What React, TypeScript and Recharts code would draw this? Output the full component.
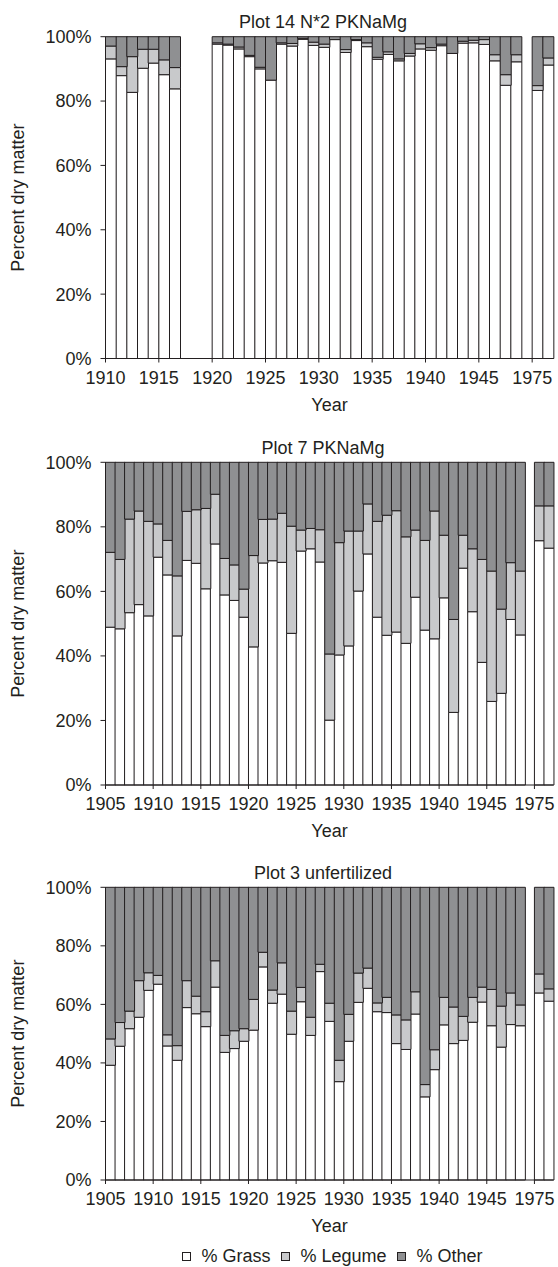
import React from 'react';
import { BarChart, Bar, XAxis, YAxis } from 'recharts';

const FONT = '"Liberation Sans", Arial, Helvetica, sans-serif';
const INK = '#231f20';
const GRASS_FILL = '#ffffff';
const LEGUME_FILL = '#c8c9cb';
const OTHER_FILL = '#8f9092';

// ---------- Plot 14 N*2 PKNaMg ----------
const years14 = [
  '1910', '1911', '1912', '1913', '1914', '1915', '1916', '1917', '1918', '1919',
  '1920', '1921', '1922', '1923', '1924', '1925', '1926', '1927', '1928', '1929',
  '1930', '1931', '1932', '1933', '1934', '1935', '1936', '1937', '1938', '1939',
  '1940', '1941', '1942', '1943', '1944', '1945', '1946', '1947', '1948', '',
  '1975', '1976',
];
const grass14 = [
  93.1, 87.9, 82.7, 90.2, 91.8, 88.2, 83.8, null, null, null,
  97.7, 97.4, 96.2, 93.8, 90.0, 86.5, 97.7, 97.1, 99.2, 97.3,
  96.7, 99.1, 95.1, 98.8, 96.9, 93.0, 94.5, 92.5, 94.0, 96.2,
  95.8, 97.2, 94.8, 98.0, 98.1, 97.6, 92.5, 84.9, 92.2, null,
  83.3, 91.2,
];
const legume14 = [
  4.0, 2.8, 11.1, 5.9, 4.3, 4.6, 6.6, null, null, null,
  0.4, 0.3, 0.6, 0.4, 0.5, 0.0, 0.4, 0.8, 0.3, 1.0,
  1.0, 0.0, 0.9, 0.3, 1.2, 0.6, 0.8, 0.6, 0.8, 1.6,
  0.8, 0.5, 0.0, 0.6, 0.8, 1.5, 1.9, 3.3, 2.2, null,
  1.5, 2.2,
];
const other14 = [
  2.9, 9.3, 6.2, 3.9, 3.9, 7.2, 9.6, null, null, null,
  1.9, 2.3, 3.2, 5.8, 9.5, 13.5, 1.9, 2.1, 0.5, 1.7,
  2.3, 0.9, 4.0, 0.9, 1.9, 6.4, 4.7, 6.9, 5.2, 2.2,
  3.4, 2.3, 5.2, 1.4, 1.1, 0.9, 5.6, 11.8, 5.6, null,
  15.2, 6.6,
];
const tickLabels14 = ['1910', '1915', '1920', '1925', '1930', '1935', '1940', '1945', '1975'];

// ---------- shared categories for plots 7 and 3 ----------
const years7and3 = [
  '1905', '1906', '1907', '1908', '1909', '1910', '1911', '1912', '1913', '1914',
  '1915', '1916', '1917', '1918', '1919', '1920', '1921', '1922', '1923', '1924',
  '1925', '1926', '1927', '1928', '1929', '1930', '1931', '1932', '1933', '1934',
  '1935', '1936', '1937', '1938', '1939', '1940', '1941', '1942', '1943', '1944',
  '1945', '1946', '1947', '1948', '', '1975', '1976',
];
const tickLabels7and3 = ['1905', '1910', '1915', '1920', '1925', '1930', '1935', '1940', '1945', '1975'];

// ---------- Plot 7 PKNaMg ----------
const grass7 = [
  48.9, 48.4, 53.4, 55.9, 52.4, 70.6, 65.1, 46.2, 69.6, 68.7,
  60.8, 74.7, 58.9, 57.2, 52.0, 42.8, 68.8, 69.5, 69.0, 47.0,
  72.5, 73.2, 69.1, 20.1, 40.3, 43.1, 60.1, 71.6, 52.0, 46.4,
  47.4, 43.9, 58.2, 48.0, 45.3, 58.0, 22.5, 67.2, 53.7, 38.0,
  25.9, 28.4, 51.3, 46.5, null, 75.7, 73.4,
];
const legume7 = [
  23.2, 21.5, 29.0, 29.0, 29.3, 10.3, 10.7, 18.6, 15.2, 16.6,
  24.9, 15.4, 11.3, 11.0, 8.7, 28.3, 13.5, 12.9, 15.2, 33.2,
  6.5, 6.3, 10.0, 20.5, 34.8, 35.6, 18.6, 15.5, 29.7, 37.2,
  37.6, 33.0, 20.8, 27.8, 39.6, 19.4, 28.8, 10.2, 19.5, 31.9,
  40.4, 26.1, 17.6, 19.8, null, 10.8, 13.1,
];
const other7 = [
  27.9, 30.1, 17.6, 15.1, 18.3, 19.1, 24.2, 35.2, 15.2, 14.7,
  14.3, 9.9, 29.8, 31.8, 39.3, 28.9, 17.7, 17.6, 15.8, 19.8,
  21.0, 20.5, 20.9, 59.4, 24.9, 21.3, 21.3, 12.9, 18.3, 16.4,
  15.0, 23.1, 21.0, 24.2, 15.1, 22.6, 48.7, 22.6, 26.8, 30.1,
  33.7, 45.5, 31.1, 33.7, null, 13.5, 13.5,
];

// ---------- Plot 3 unfertilized ----------
const grass3 = [
  39.2, 45.7, 51.7, 55.6, 64.8, 66.9, 45.8, 40.9, 58.9, 56.8,
  52.4, 65.9, 43.6, 44.9, 47.4, 51.2, 72.8, 60.4, 63.5, 49.8,
  60.9, 49.4, 71.2, 54.2, 33.6, 47.4, 60.7, 65.5, 57.5, 57.2,
  46.6, 44.6, 56.7, 28.4, 37.7, 53.0, 46.6, 47.7, 53.9, 60.8,
  52.7, 45.4, 53.1, 52.7, null, 63.9, 61.1,
];
const legume3 = [
  9.0, 8.1, 6.0, 12.5, 6.0, 3.0, 3.8, 5.0, 9.2, 6.0,
  5.1, 9.0, 5.8, 6.1, 4.3, 10.5, 5.0, 4.5, 10.7, 7.9,
  4.9, 6.2, 2.5, 6.2, 7.3, 9.2, 10.0, 6.9, 3.0, 5.2,
  9.8, 10.1, 7.6, 4.2, 6.8, 9.4, 12.5, 8.2, 8.5, 5.1,
  12.4, 14.0, 10.8, 7.1, null, 6.5, 4.2,
];
const other3 = [
  51.8, 46.2, 42.3, 31.9, 29.2, 30.1, 50.4, 54.1, 31.9, 37.2,
  42.5, 25.1, 50.6, 49.0, 48.3, 38.3, 22.2, 35.1, 25.8, 42.3,
  34.2, 44.4, 26.3, 39.6, 59.1, 43.4, 29.3, 27.6, 39.5, 37.6,
  43.6, 45.3, 35.7, 67.4, 55.5, 37.6, 40.9, 44.1, 37.6, 34.1,
  34.9, 40.6, 36.1, 40.2, null, 29.6, 34.7,
];

const yTicks = [0, 20, 40, 60, 80, 100];
const seriesNames = ['% Grass', '% Legume', '% Other'];
const seriesFills = [GRASS_FILL, LEGUME_FILL, OTHER_FILL];

const CHART_W = 558;
const Y_AXIS_W = 105.5;
const RIGHT_MARGIN = 4.5;
const TICK_SIZE = 4;
const TICK_MARGIN = 8.5;

// Tick drawn at the left edge of its category band (as in the reference)
function makeXTick(n: number) {
  const fallbackHalf = (CHART_W - Y_AXIS_W - RIGHT_MARGIN) / n / 2;
  return function XTick(props: any) {
    const { x, y, payload } = props;
    const half =
      payload && typeof payload.offset === 'number' && payload.offset > 0 ? payload.offset : fallbackHalf;
    const ex = x - half;
    const axisY = y - TICK_SIZE - TICK_MARGIN;
    return (
      <g>
        <line x1={ex} x2={ex} y1={axisY} y2={axisY + TICK_SIZE} stroke={INK} strokeWidth={1} />
        <text x={ex} y={y} dy="0.71em" textAnchor="middle" fontSize={18} fill={INK}>
          {payload.value}
        </text>
      </g>
    );
  };
}

type PanelProps = {
  title: string;
  categories: string[];
  grass: (number | null)[];
  legume: (number | null)[];
  other: (number | null)[];
  tickLabels: string[];
  top: number;
  height: number;
  marginTop: number;
  titleTop: number;
};

function Panel(p: PanelProps) {
  const rows = p.categories.map((c, i) => ({
    year: c,
    grass: p.grass[i],
    legume: p.legume[i],
    other: p.other[i],
  }));
  const XTick = makeXTick(p.categories.length);
  return (
    <>
      <div
        style={{
          position: 'absolute',
          top: p.titleTop,
          left: 323,
          transform: 'translateX(-50%)',
          whiteSpace: 'nowrap',
          fontSize: 18,
          lineHeight: '18px',
          color: INK,
        }}
      >
        {p.title}
      </div>
      <div style={{ position: 'absolute', top: p.top, left: 0 }}>
        <BarChart
          width={CHART_W}
          height={p.height}
          data={rows}
          margin={{ top: p.marginTop, right: RIGHT_MARGIN, bottom: 0, left: 0 }}
          barCategoryGap={0}
          barGap={0}
        >
          <XAxis
            dataKey="year"
            type="category"
            ticks={p.tickLabels}
            interval={0}
            height={60}
            tickSize={TICK_SIZE}
            tickMargin={TICK_MARGIN}
            tickLine={false}
            stroke={INK}
            tick={<XTick />}
            label={{ value: 'Year', position: 'insideBottom', offset: 8, fontSize: 18, fill: INK }}
          />
          <YAxis
            domain={[0, 100]}
            ticks={yTicks}
            interval={0}
            tickFormatter={(v: number) => `${v}%`}
            width={Y_AXIS_W}
            tickSize={5}
            tickMargin={9}
            stroke={INK}
            tick={{ fontSize: 18, fill: INK }}
            label={{
              value: 'Percent dry matter',
              angle: -90,
              position: 'insideLeft',
              offset: 18,
              fontSize: 18,
              fill: INK,
              style: { textAnchor: 'middle' },
            }}
          />
          <Bar dataKey="grass" name={seriesNames[0]} stackId="s" fill={GRASS_FILL} stroke={INK} strokeWidth={1} isAnimationActive={false} />
          <Bar dataKey="legume" name={seriesNames[1]} stackId="s" fill={LEGUME_FILL} stroke={INK} strokeWidth={1} isAnimationActive={false} />
          <Bar dataKey="other" name={seriesNames[2]} stackId="s" fill={OTHER_FILL} stroke={INK} strokeWidth={1} isAnimationActive={false} />
        </BarChart>
      </div>
    </>
  );
}

function LegendRow() {
  return (
    <div
      style={{
        position: 'absolute',
        top: 1247,
        left: 181.5,
        display: 'flex',
        alignItems: 'center',
        height: 18,
        fontSize: 18,
        lineHeight: '18px',
        color: INK,
        whiteSpace: 'nowrap',
      }}
    >
      {seriesNames.map((name, i) => (
        <div key={name} style={{ display: 'flex', alignItems: 'center', marginLeft: i === 0 ? 0 : 10 }}>
          <span
            style={{
              display: 'inline-block',
              width: 9,
              height: 9,
              boxSizing: 'border-box',
              border: `1px solid ${INK}`,
              background: seriesFills[i],
              marginRight: 11,
            }}
          />
          <span>{name}</span>
        </div>
      ))}
    </div>
  );
}

export default function App() {
  return (
    <div
      style={{
        position: 'absolute',
        left: 0,
        top: 0,
        width: 558,
        height: 1267,
        background: '#ffffff',
        fontFamily: FONT,
        overflow: 'hidden',
      }}
    >
      <Panel
        title="Plot 14 N*2 PKNaMg"
        categories={years14}
        grass={grass14}
        legume={legume14}
        other={other14}
        tickLabels={tickLabels14}
        top={0}
        height={418.5}
        marginTop={36.7}
        titleTop={13}
      />
      <Panel
        title="Plot 7 PKNaMg"
        categories={years7and3}
        grass={grass7}
        legume={legume7}
        other={other7}
        tickLabels={tickLabels7and3}
        top={430}
        height={415}
        marginTop={32.3}
        titleTop={438.8}
      />
      <Panel
        title="Plot 3 unfertilized"
        categories={years7and3}
        grass={grass3}
        legume={legume3}
        other={other3}
        tickLabels={tickLabels7and3}
        top={860}
        height={380}
        marginTop={27.3}
        titleTop={863.7}
      />
      <LegendRow />
    </div>
  );
}
